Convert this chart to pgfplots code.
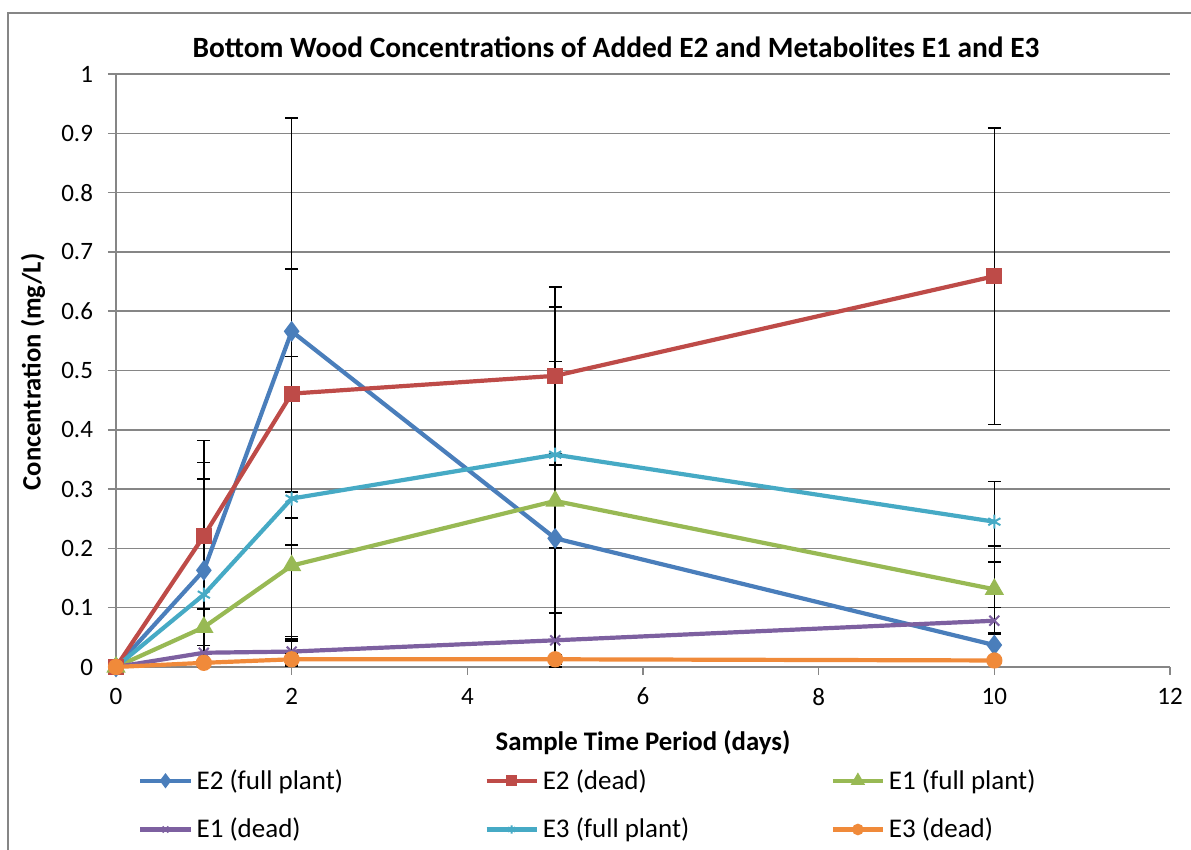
\documentclass[border=0pt]{standalone}
\usepackage{pgfplots}
\pgfplotsset{compat=1.18}
\usepackage{fontspec}
\setmainfont{Carlito}
\definecolor{cE2f}{HTML}{4A7EBB}
\definecolor{cE2d}{HTML}{BE4B48}
\definecolor{cE1f}{HTML}{98B954}
\definecolor{cE1d}{HTML}{7D60A0}
\definecolor{cE3f}{HTML}{46AAC5}
\definecolor{cE3d}{HTML}{F08A3A}
\definecolor{gridc}{HTML}{868686}
\newcommand{\lab}[1]{\makebox[142pt][l]{#1}}
\begin{document}
\begin{tikzpicture}
\path[use as bounding box] (0pt,0pt) rectangle (595.5pt,425pt);
\draw[gridc, line width=1pt] (4pt,0pt) -- (4pt,418.5pt) -- (600pt,418.5pt);
\begin{axis}[
  at={(58pt,91.5pt)}, anchor=south west,
  scale only axis, width=527pt, height=296.5pt,
  xmin=0, xmax=12, ymin=0, ymax=1,
  xtick={0,2,...,12}, ytick={0,0.1,...,1.0},
  yticklabels={0,0.1,0.2,0.3,0.4,0.5,0.6,0.7,0.8,0.9,1},
  axis lines*=left,
  axis line style={gridc, line width=0.75pt, -},
  tick style={gridc, line width=0.75pt},
  tick align=outside, major tick length=4pt,
  ymajorgrids, grid style={gridc, line width=0.75pt},
  ticklabel style={font=\fontsize{12.5}{14}\selectfont},
  /pgf/number format/assume math mode=true,
  yticklabel style={xshift=-4pt},
  xticklabel style={yshift=-3pt},
  clip=false,
  legend columns=3,
  legend style={at={(axis description cs:0,0)}, anchor=north west, xshift=8pt, yshift=-47pt,
     draw=none, fill=none, font=\fontsize{13.5}{15}\selectfont,
     /tikz/every even column/.append style={column sep=0pt},
     row sep=9pt},
  legend cell align=left,
  legend image code/.code={\draw[mark repeat=2,mark phase=2,#1,every mark/.append style={scale=0.6}] plot coordinates {(0pt,0pt) (12.5pt,0pt) (25pt,0pt)};},
  error bars/y dir=both, error bars/y explicit,
  error bars/error bar style={black, line width=0.75pt, solid},
  error bars/error mark options={rotate=90, mark size=3.2pt, black, line width=0.75pt},
  every axis plot/.append style={line width=2.1pt},
]
\addplot[cE2f, mark=diamond*, mark size=3.5pt, mark options={solid, fill=cE2f}] coordinates {
 (0,0) +- (0,0)
 (1,0.163) += (0,0.182) -= (0,0.163)
 (2,0.566) +- (0,0.36)
 (5,0.217) += (0,0.39) -= (0,0.217)
 (10,0.037) +- (0,0.02)
};
\addlegendentry{\lab{E2 (full plant)}}
\addplot[cE2d, mark=square*, mark size=3pt, mark options={solid, fill=cE2d}] coordinates {
 (0,0) +- (0,0)
 (1,0.221) +- (0,0.161)
 (2,0.461) +- (0,0.21)
 (5,0.491) +- (0,0.15)
 (10,0.659) +- (0,0.25)
};
\addlegendentry{\lab{E2 (dead)}}
\addplot[cE1f, mark=triangle*, mark size=3.5pt, mark options={solid, fill=cE1f}] coordinates {
 (0,0) +- (0,0)
 (1,0.067) +- (0,0.031)
 (2,0.171) +- (0,0.124)
 (5,0.28) +- (0,0.08)
 (10,0.131) +- (0,0.073)
};
\addlegendentry{\lab{E1 (full plant)}}
\addplot[cE1d, mark=x, mark size=3.5pt, mark options={solid, line width=1pt}] coordinates {
 (0,0) +- (0,0)
 (1,0.024) +- (0,0.012)
 (2,0.026) +- (0,0.025)
 (5,0.045) += (0,0.046) -= (0,0.045)
 (10,0.078) +- (0,0.022)
};
\addlegendentry{\lab{E1 (dead)}}
\addplot[cE3f, mark=asterisk, mark size=3.5pt, mark options={solid, line width=1pt}] coordinates {
 (0,0) +- (0,0)
 (1,0.122) += (0,0.195) -= (0,0.122)
 (2,0.284) +- (0,0.24)
 (5,0.358) +- (0,0.157)
 (10,0.245) +- (0,0.068)
};
\addlegendentry{\lab{E3 (full plant)}}
\addplot[cE3d, mark=*, mark size=3pt, mark options={solid, fill=cE3d}] coordinates {
 (0,0) +- (0,0)
 (1,0.007) +- (0,0.005)
 (2,0.013) +- (0,0.01)
 (5,0.013) +- (0,0.008)
 (10,0.011) +- (0,0.006)
};
\addlegendentry{\lab{E3 (dead)}}
\end{axis}
\node[font=\bfseries\fontsize{14.7}{17}\selectfont] at (308pt,401.5pt) {Bottom Wood Concentrations of Added E2 and Metabolites E1 and E3};
\node[font=\bfseries\fontsize{13.4}{15}\selectfont] at (321.5pt,53.5pt) {Sample Time Period (days)};
\node[font=\bfseries\fontsize{13.3}{15}\selectfont, rotate=90] at (16.5pt,239pt) {Concentration (mg/L)};
\end{tikzpicture}
\end{document}
